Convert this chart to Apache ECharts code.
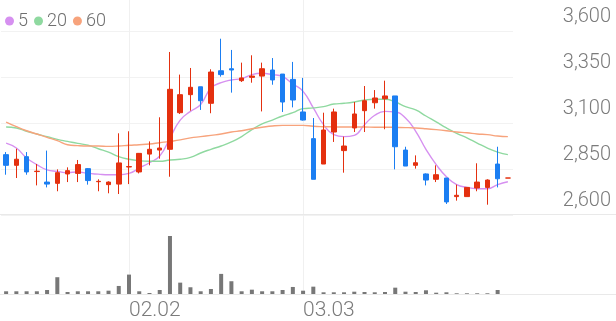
<!DOCTYPE html>
<html>
<head>
<meta charset="utf-8">
<script src="https://cdn.jsdelivr.net/npm/echarts@6/dist/echarts.min.js"></script>
<style>
html,body{margin:0;padding:0;background:#fff;}
#chart{width:616px;height:321px;}
</style>
</head>
<body>
<div id="chart"></div>
<script>
const dates = ['01.15','01.16','01.19','01.20','01.21','01.22','01.23','01.26','01.27','01.28','01.29','01.30',
  '02.02','02.03','02.04','02.05','02.06','02.09','02.10','02.11','02.12','02.13','02.19','02.20','02.23','02.24','02.25','02.26','02.27',
  '03.03','03.04','03.05','03.06','03.09','03.10','03.11','03.12','03.13','03.16','03.17','03.18','03.19','03.20','03.23','03.24','03.25','03.26','03.27','03.30','03.31'];
const openP  = [2928,2870,2917,2836,2779,2772,2823,2826,2852,2781,2765,2768,2861,2834,2931,2953,2957,3156,3254,3297,3207,3384,3395,3330,3348,3355,3388,3366,3337,3160,3015,2877,3051,2950,3073,3167,3210,3232,3247,2953,2870,2823,2794,2801,2700,2700,2747,2750,2877,2801];
const closeP = [2870,2903,2834,2838,2768,2830,2841,2874,2787,2783,2779,2883,2863,2935,2957,2964,3283,3254,3294,3221,3377,3363,3388,3345,3355,3395,3334,3214,3225,3116,2794,3062,3160,2975,3149,3221,3236,3247,2971,2866,2884,2790,2819,2671,2707,2750,2779,2790,2797,2801];
const lowP   = [2819,2801,2819,2761,2750,2729,2779,2779,2765,2729,2718,2714,2768,2826,2870,2906,2808,3149,3167,3171,3153,3352,3265,3323,3319,3163,3308,3160,3185,3113,2794,2877,2997,2830,3051,3051,3178,3066,2848,2866,2852,2761,2779,2660,2678,2700,2729,2656,2750,2801];
const highP  = [2942,2960,2942,2877,2950,2848,2859,2899,2855,2794,2783,3044,3055,2937,3000,3131,3486,3363,3399,3297,3392,3558,3497,3428,3468,3428,3453,3366,3432,3345,3127,3156,3178,3026,3214,3301,3279,3330,3247,2971,2924,2826,2870,2801,2765,2750,2881,2794,2971,2801];
const volume = [27000,27000,27000,27000,40000,167000,20000,27000,27000,27000,33000,80000,193000,27000,10000,40000,577000,113000,67000,27000,50000,200000,127000,27000,43000,27000,27000,40000,70000,
  33000,73000,17000,17000,17000,23000,20000,17000,20000,63000,23000,20000,37000,13000,17000,7000,7000,7000,7000,40000,0];
const ma5  = [2991,2964,2910,2874,2845,2837,2830,2834,2826,2822,2819,2819,2826,2855,2884,2921,3018,3116,3163,3201,3290,3319,3334,3341,3363,3370,3363,3352,3312,3272,3182,3091,3037,3026,3033,3091,3142,3163,3160,3127,3055,2957,2874,2808,2765,2750,2743,2743,2765,2781];
const ma20 = [3078,3073,3055,3040,3026,3011,3000,2989,2979,2960,2942,2917,2903,2895,2892,2892,2899,2903,2913,2937,2957,2975,2997,3026,3064,3095,3116,3138,3156,3178,3182,3189,3203,3207,3214,3225,3229,3229,3214,3189,3171,3138,3106,3073,3044,3019,2991,2964,2942,2928];
const ma60 = [3105,3080,3058,3040,3022,3004,2982,2977,2975,2975,2973,2975,2979,2982,2986,2993,3000,3008,3019,3026,3033,3040,3051,3058,3069,3077,3084,3087,3087,3087,3082,3080,3079,3078,3078,3078,3077,3077,3076,3075,3073,3069,3064,3058,3051,3047,3040,3037,3029,3026];
const yTicks = [2600,2850,3100,3350,3600];
const maNames = ['5','20','60'];

const UP = '#e4300f', DOWN = '#1b7ef2';
const FONT = 'Roboto';
const TXT = '#7b7b7b';

function monthStart(i){ return i > 0 && dates[i].slice(0,2) !== dates[i-1].slice(0,2); }

const ohlc = dates.map((d,i)=>[openP[i], closeP[i], lowP[i], highP[i]]);
const yStep = yTicks[1]-yTicks[0];
const yMin = yTicks[0];
const yMax = yTicks[yTicks.length-1] + 31*yStep/46;

const chart = echarts.init(document.getElementById('chart'), null, {renderer:'canvas'});
chart.setOption({
  animation:false,
  backgroundColor:'#fff',
  textStyle:{fontFamily:FONT},
  legend:{
    left:0, top:7, icon:'circle', itemWidth:9, itemHeight:9, itemGap:6,
    textStyle:{fontSize:18, color:'#6f6f6f', fontFamily:FONT, fontWeight:300, padding:[0,0,0,-1]},
    data:maNames
  },
  grid:[
    {left:1, width:512, top:0, height:215},
    {left:1, width:512, top:215, height:79}
  ],
  xAxis:[
    {type:'category', gridIndex:0, data:dates, boundaryGap:true,
     axisLine:{show:false}, axisTick:{show:false}, axisLabel:{show:false},
     splitLine:{show:true, alignWithLabel:true, interval:(i)=>monthStart(i), lineStyle:{color:'#f0f0f0', width:1}}},
    {type:'category', gridIndex:1, data:dates, boundaryGap:true,
     axisLine:{show:false}, axisTick:{show:false},
     axisLabel:{show:true, interval:(i)=>monthStart(i), align:'left', margin:6, fontSize:21, fontWeight:300, color:TXT, fontFamily:FONT},
     splitLine:{show:true, alignWithLabel:true, interval:(i)=>monthStart(i), lineStyle:{color:'#f0f0f0', width:1}}}
  ],
  yAxis:[
    {type:'value', gridIndex:0, position:'right', min:yMin, max:yMax, interval:yStep, scale:true,
     axisLine:{show:false}, axisTick:{show:false},
     axisLabel:{show:true, showMaxLabel:false, align:'right', margin:98, verticalAlign:'bottom', lineHeight:20, padding:[0,0,4,0],
       fontSize:20, fontWeight:300, color:TXT, fontFamily:FONT,
       formatter:(v)=> yTicks.indexOf(v) >= 0 ? v.toLocaleString('en-US') : ''},
     splitLine:{show:true, showMaxLine:false, lineStyle:{color:'#f2f2f2', width:1}}},
    {type:'value', gridIndex:1, min:0, max:(e)=>e.max*79/58, show:false, splitLine:{show:false}}
  ],
  graphic:[
    {type:'line', shape:{x1:0, y1:214.5, x2:616, y2:214.5}, style:{stroke:'#e9e9e9', lineWidth:1}, z:1},
    {type:'line', shape:{x1:0, y1:294.5, x2:616, y2:294.5}, style:{stroke:'#e9e9e9', lineWidth:1}, z:1}
  ],
  series:[
    {name:'5', type:'line', xAxisIndex:0, yAxisIndex:0, data:ma5, smooth:true, symbol:'none', showSymbol:false,
     lineStyle:{color:'#d690f0', width:1.4}, itemStyle:{color:'#d690f0'}, z:2},
    {name:'20', type:'line', xAxisIndex:0, yAxisIndex:0, data:ma20, smooth:true, symbol:'none', showSymbol:false,
     lineStyle:{color:'#8fd9a0', width:1.4}, itemStyle:{color:'#8fd9a0'}, z:2},
    {name:'60', type:'line', xAxisIndex:0, yAxisIndex:0, data:ma60, smooth:true, symbol:'none', showSymbol:false,
     lineStyle:{color:'#f7a37c', width:1.4}, itemStyle:{color:'#f7a37c'}, z:2},
    {name:'K', type:'candlestick', xAxisIndex:0, yAxisIndex:0, data:ohlc, barWidth:5,
     itemStyle:{color:UP, color0:DOWN, borderColor:UP, borderColor0:DOWN, borderWidth:1}, z:3},
    {name:'V', type:'bar', xAxisIndex:1, yAxisIndex:1, data:volume, barWidth:4,
     itemStyle:{color:'#777777'}, z:3}
  ]
});
</script>
</body>
</html>
